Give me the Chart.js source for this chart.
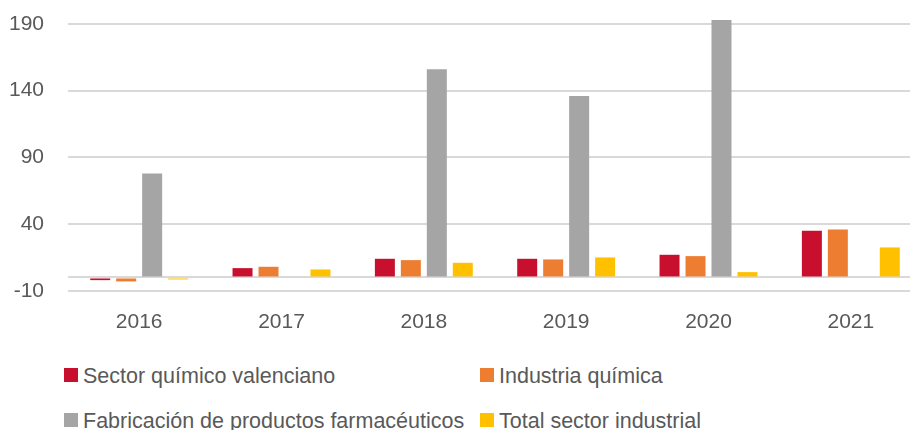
<!DOCTYPE html>
<html>
<head>
<meta charset="utf-8">
<script src="https://cdn.jsdelivr.net/npm/chart.js@4.4.1/dist/chart.umd.min.js"></script>
<style>
  body { margin: 0; background: #fff; overflow: hidden; font-family: "Liberation Sans", Arial, sans-serif; }
  #wrap { position: relative; width: 910px; height: 430px; overflow: hidden; }
  #box { position: absolute; left: 0; top: 0; width: 922px; height: 354px; }
  .leg { position: absolute; font-size: 21.5px; line-height: 24px; color: #595959; white-space: nowrap; }
  .leg i { position: absolute; width: 14px; height: 14px; left: 0; top: 4px; }
  .leg span { position: absolute; left: 19px; top: 0; }
</style>
</head>
<body>
<div id="wrap">
  <div id="box"><canvas id="barChart"></canvas></div>
  <div id="legend"></div>
</div>
<script>
const years = ["2016", "2017", "2018", "2019", "2020", "2021"];
const sectorValenciano = [-2, 7, 14, 14, 17, 35];
const industriaQuimica = [-3, 8, 13, 13.5, 16, 36];
const farmaceuticos = [78, null, 156, 136, 193, null];
const totalIndustrial = [-1.5, 6, 11, 15, 4, 22.5];
const yTicks = [-10, 40, 90, 140, 190];

const seriesNames = ["Sector químico valenciano", "Industria química",
  "Fabricación de productos farmacéuticos", "Total sector industrial"];
const seriesColors = ["#C8102E", "#ED7D31", "#A5A5A5", "#FFC000"];
const seriesData = [sectorValenciano, industriaQuimica, farmaceuticos, totalIndustrial];

const chart = new Chart(document.getElementById("barChart"), {
  type: "bar",
  data: {
    labels: years,
    datasets: seriesData.map((d, i) => ({
      label: seriesNames[i],
      data: d,
      backgroundColor: seriesColors[i],
      categoryPercentage: 0.73,
      barPercentage: 0.77,
      clip: false
    }))
  },
  options: {
    responsive: true,
    maintainAspectRatio: false,
    animation: false,
    layout: { padding: { top: 24, right: 0, bottom: 0, left: 0 } },
    plugins: { legend: { display: false }, tooltip: { enabled: false } },
    scales: {
      x: {
        grid: { display: false, drawTicks: false },
        border: { display: false },
        ticks: { color: "#595959", font: { family: "Liberation Sans", size: 21 }, padding: 19 }
      },
      y: {
        min: yTicks[0],
        max: yTicks[yTicks.length - 1],
        afterFit: s => {
          s.width = 68;
          s.paddingTop = 0;
          s.paddingBottom = 0;
        },
        afterBuildTicks: s => {
          // Excel draws the category axis line at zero
          s.ticks = [-10, 0, ...yTicks.slice(1)].map(v => ({ value: v }));
        },
        grid: { color: "#d9d9d9", lineWidth: 2, drawTicks: false },
        border: { display: false },
        ticks: {
          color: "#595959",
          font: { family: "Liberation Sans", size: 21 },
          padding: 24,
          callback: v => (yTicks.includes(v) ? v : "")
        }
      }
    }
  }
});

// legend laid out in Excel's two-column grid
const legendPos = [[64, 364], [480, 364], [64, 409], [480, 409]];
const legend = document.getElementById("legend");
chart.data.datasets.forEach((ds, i) => {
  const el = document.createElement("div");
  el.className = "leg";
  el.style.left = legendPos[i][0] + "px";
  el.style.top = legendPos[i][1] + "px";
  el.innerHTML = '<i style="background:' + ds.backgroundColor + '"></i><span>' + ds.label + "</span>";
  legend.appendChild(el);
});
</script>
</body>
</html>
